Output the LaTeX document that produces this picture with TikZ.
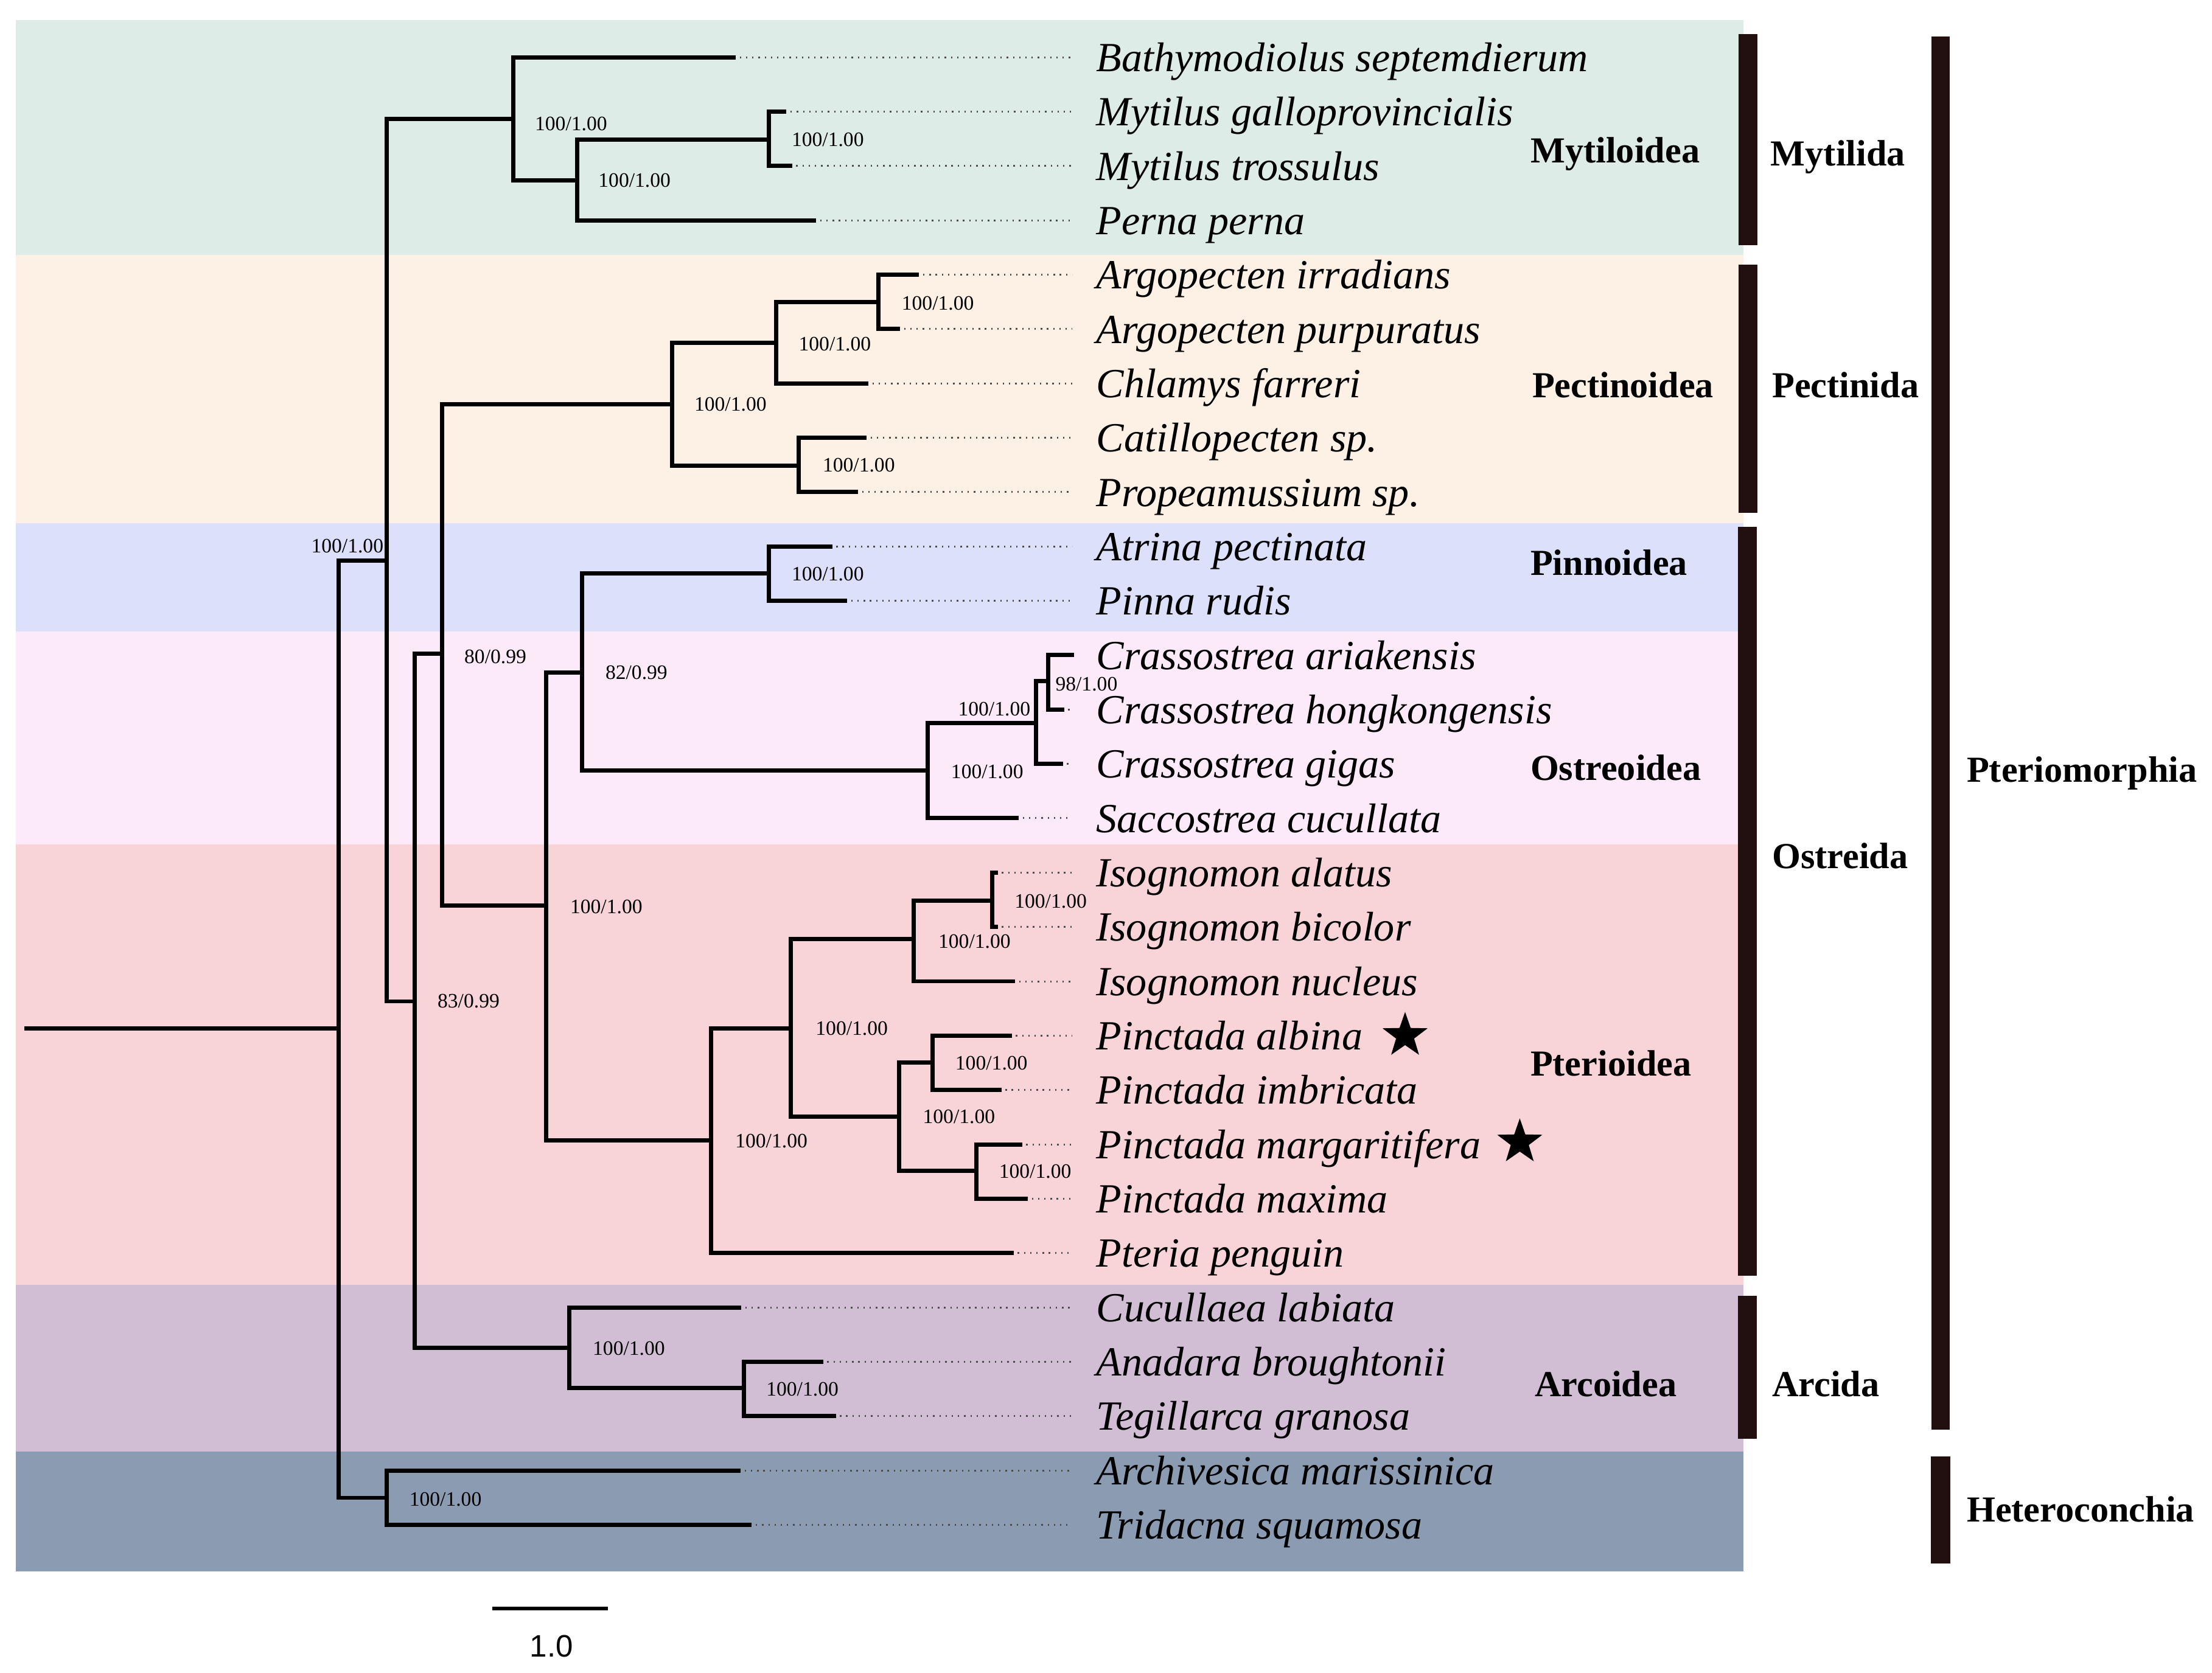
\documentclass[tikz,border=0pt]{standalone}
\usepackage{fontspec}
\setmainfont{Liberation Serif}
\newfontfamily\sansf{Liberation Sans}
\usetikzlibrary{shapes.geometric}
\definecolor{cMyt}{RGB}{221,236,230}
\definecolor{cPec}{RGB}{253,240,229}
\definecolor{cPin}{RGB}{220,224,251}
\definecolor{cOst}{RGB}{253,234,249}
\definecolor{cPte}{RGB}{248,212,216}
\definecolor{cArc}{RGB}{209,190,212}
\definecolor{cHet}{RGB}{138,155,178}
\definecolor{barc}{RGB}{34,16,16}
\begin{document}
\begin{tikzpicture}[x=1pt,y=-1pt,
  br/.style={line width=3pt, line cap=rect, black},
  dotline/.style={line width=1.3pt, black!70, dash pattern=on 1pt off 3.4pt},
  taxon/.style={anchor=base west, inner sep=0pt, font=\fontsize{29.4}{30}\selectfont\itshape},
  clade/.style={anchor=base west, inner sep=0pt, font=\fontsize{26}{27}\selectfont\bfseries},
  supp/.style={anchor=base west, inner sep=0pt, font=\fontsize{14.5}{15}\selectfont},
  starmark/.style={star, star points=5, star point ratio=2.5, fill=black, draw=none, minimum size=33.6pt, inner sep=0pt}]
\useasboundingbox (0,0) rectangle (1568,1186.2);
% background bands
\fill[cMyt] (11,14.4) rectangle (1236,180.8);
\fill[cPec] (11,180.8) rectangle (1236,370.8);
\fill[cPin] (11,370.8) rectangle (1236,447.8);
\fill[cOst] (11,447.8) rectangle (1236,598.6);
\fill[cPte] (11,598.6) rectangle (1236,911);
\fill[cArc] (11,911) rectangle (1236,1029);
\fill[cHet] (11,1029) rectangle (1236,1114);
% taxa, tips and dotted leaders
\foreach \i/\tx/\nm in {
  0/520/Bathymodiolus septemdierum,
  1/556/Mytilus galloprovincialis,
  2/560/Mytilus trossulus,
  3/577/Perna perna,
  4/650/Argopecten irradians,
  5/636.5/Argopecten purpuratus,
  6/614/Chlamys farreri,
  7/612.7/Catillopecten sp.,
  8/606.7/Propeamussium sp.,
  9/588.4/Atrina pectinata,
  10/599/Pinna rudis,
  11/760/Crassostrea ariakensis,
  12/752.8/Crassostrea hongkongensis,
  13/751.9/Crassostrea gigas,
  14/720.6/Saccostrea cucullata,
  15/705.8/Isognomon alatus,
  16/705.8/Isognomon bicolor,
  17/718/Isognomon nucleus,
  18/715.7/Pinctada albina,
  19/708.3/Pinctada imbricata,
  20/723/Pinctada margaritifera,
  21/727/Pinctada maxima,
  22/717/Pteria penguin,
  23/524/Cucullaea labiata,
  24/582/Anadara broughtonii,
  25/591/Tegillarca granosa,
  26/523.5/Archivesica marissinica,
  27/531.4/Tridacna squamosa}{
  \pgfmathsetmacro\yy{40.6+38.54*\i}
  \coordinate (t\i) at (\tx,\yy);
  \coordinate (d\i) at (760,\yy);
  \draw[dotline] (t\i) -- (d\i);
  \node[taxon] (n\i) at (777,\yy+10) {\nm};
}
% internal nodes
\coordinate (R0) at (18.8,729.3);
\coordinate (R) at (240.2,729.3);
\coordinate (A) at (274,397.5);
\coordinate (H) at (274,1062);
\coordinate (M) at (364,84.5);
\coordinate (B) at (294,710);
\coordinate (C) at (313.5,463.5);
\coordinate (Ar) at (403.7,955.5);
\coordinate (P) at (476.5,286.5);
\coordinate (O) at (387.3,642);
\coordinate (D) at (412.6,476.7);
\coordinate (Pt) at (504.2,808.4);
\coordinate (Pin) at (545,406.6);
\coordinate (Os) at (657.8,546.3);
\coordinate (Mn) at (409,128);
\coordinate (Mg) at (545,99);
\coordinate (P1) at (550,243);
\coordinate (P2) at (566,330);
\coordinate (P3) at (622.5,214);
\coordinate (Cr) at (734.5,512.5);
\coordinate (Cr2) at (743,482.8);
\coordinate (Pq) at (560.7,729.3);
\coordinate (Is) at (647.8,666);
\coordinate (Is2) at (703.3,638.5);
\coordinate (Pc) at (637.5,791.7);
\coordinate (Pab) at (661.2,753.2);
\coordinate (Pmm) at (692,830);
\coordinate (Ar2) at (527.5,984.3);
% branches
\draw[br] (R0) -- (R);
\draw[br] (R) |- (A) (R) |- (H);
\draw[br] (A) |- (M) (A) |- (B);
\draw[br] (B) |- (C) (B) |- (Ar);
\draw[br] (C) |- (P) (C) |- (O);
\draw[br] (O) |- (D) (O) |- (Pt);
\draw[br] (D) |- (Pin) (D) |- (Os);
\draw[br] (M) |- (t0) (M) |- (Mn);
\draw[br] (Mn) |- (Mg) (Mn) |- (t3);
\draw[br] (Mg) |- (t1) (Mg) |- (t2);
\draw[br] (P) |- (P1) (P) |- (P2);
\draw[br] (P1) |- (P3) (P1) |- (t6);
\draw[br] (P3) |- (t4) (P3) |- (t5);
\draw[br] (P2) |- (t7) (P2) |- (t8);
\draw[br] (Pin) |- (t9) (Pin) |- (t10);
\draw[br] (Os) |- (Cr) (Os) |- (t14);
\draw[br] (Cr) |- (Cr2) (Cr) |- (t13);
\draw[br] (Cr2) |- (t11) (Cr2) |- (t12);
\draw[br] (Pt) |- (Pq) (Pt) |- (t22);
\draw[br] (Pq) |- (Is) (Pq) |- (Pc);
\draw[br] (Is) |- (Is2) (Is) |- (t17);
\draw[br] (Is2) |- (t15) (Is2) |- (t16);
\draw[br] (Pc) |- (Pab) (Pc) |- (Pmm);
\draw[br] (Pab) |- (t18) (Pab) |- (t19);
\draw[br] (Pmm) |- (t20) (Pmm) |- (t21);
\draw[br] (Ar) |- (t23) (Ar) |- (Ar2);
\draw[br] (Ar2) |- (t24) (Ar2) |- (t25);
\draw[br] (H) |- (t26) (H) |- (t27);
% support values
\node[supp] (l1) at (379,92.6) {100/1.00};
\node[supp] (l2) at (424,132.7) {100/1.00};
\node[supp] (l3) at (561,103.7) {100/1.00};
\node[supp] (l4) at (639,219.7) {100/1.00};
\node[supp] (l5) at (566,248.7) {100/1.00};
\node[supp] (l6) at (492,291.2) {100/1.00};
\node[supp] (l7) at (583,334.7) {100/1.00};
\node[supp, anchor=base east] (l8) at (272,392) {100/1.00};
\node[supp] (l9) at (561,411.7) {100/1.00};
\node[supp] (l10) at (748,489.7) {98/1.00};
\node[supp] (l11) at (679,507.7) {100/1.00};
\node[supp] (l12) at (674,552.1) {100/1.00};
\node[supp] (l13) at (329,470.4) {80/0.99};
\node[supp] (l14) at (429,481.4) {82/0.99};
\node[supp] (l15) at (404,647.7) {100/1.00};
\node[supp] (l16) at (310,714.7) {83/0.99};
\node[supp] (l17) at (719,643.7) {100/1.00};
\node[supp] (l18) at (665,672.1) {100/1.00};
\node[supp] (l19) at (578,734) {100/1.00};
\node[supp] (l20) at (677,758.5) {100/1.00};
\node[supp] (l21) at (654,796.4) {100/1.00};
\node[supp] (l22) at (708,835.3) {100/1.00};
\node[supp] (l23) at (521,813.7) {100/1.00};
\node[supp] (l24) at (420,961) {100/1.00};
\node[supp] (l25) at (543,989.7) {100/1.00};
\node[supp] (l26) at (290,1067.7) {100/1.00};
% stars
\node[starmark] (s1) at (996,734.3) {};
\node[starmark] (s2) at (1077.3,809.8) {};
% superfamily labels
\node[clade] (c1) at (1084.8,115.2) {Mytiloidea};
\node[clade] (c2) at (1086,282) {Pectinoidea};
\node[clade] (c3) at (1084.7,408) {Pinnoidea};
\node[clade] (c4) at (1084.7,553.2) {Ostreoidea};
\node[clade] (c5) at (1084.7,762.9) {Pterioidea};
\node[clade] (c6) at (1087.7,990.3) {Arcoidea};
% order bars and labels
\fill[barc] (1232.3,24) rectangle (1245.6,174);
\fill[barc] (1232.3,187.7) rectangle (1245.6,363.5);
\fill[barc] (1231.8,373.5) rectangle (1245.2,904.6);
\fill[barc] (1231.8,919) rectangle (1245.2,1020);
\fill[barc] (1369.2,26) rectangle (1382.2,1013.6);
\fill[barc] (1368.8,1032.6) rectangle (1382.4,1108.4);
\node[clade] (o1) at (1255,117.6) {Mytilida};
\node[clade] (o2) at (1256,281.8) {Pectinida};
\node[clade] (o3) at (1256,615.7) {Ostreida};
\node[clade] (o4) at (1256,990.3) {Arcida};
\node[clade] (o5) at (1394,554.6) {Pteriomorphia};
\node[clade] (o6) at (1394,1079.2) {Heteroconchia};
% scale bar
\coordinate (sb1) at (349,1140.6);
\coordinate (sb2) at (431,1140.6);
\draw[line width=2.5pt] (sb1) -- (sb2);
\node[anchor=base, inner sep=0pt, font=\sansf\fontsize{22}{23}\selectfont] (sbl) at (391,1175) {1.0};
\end{tikzpicture}
\end{document}
